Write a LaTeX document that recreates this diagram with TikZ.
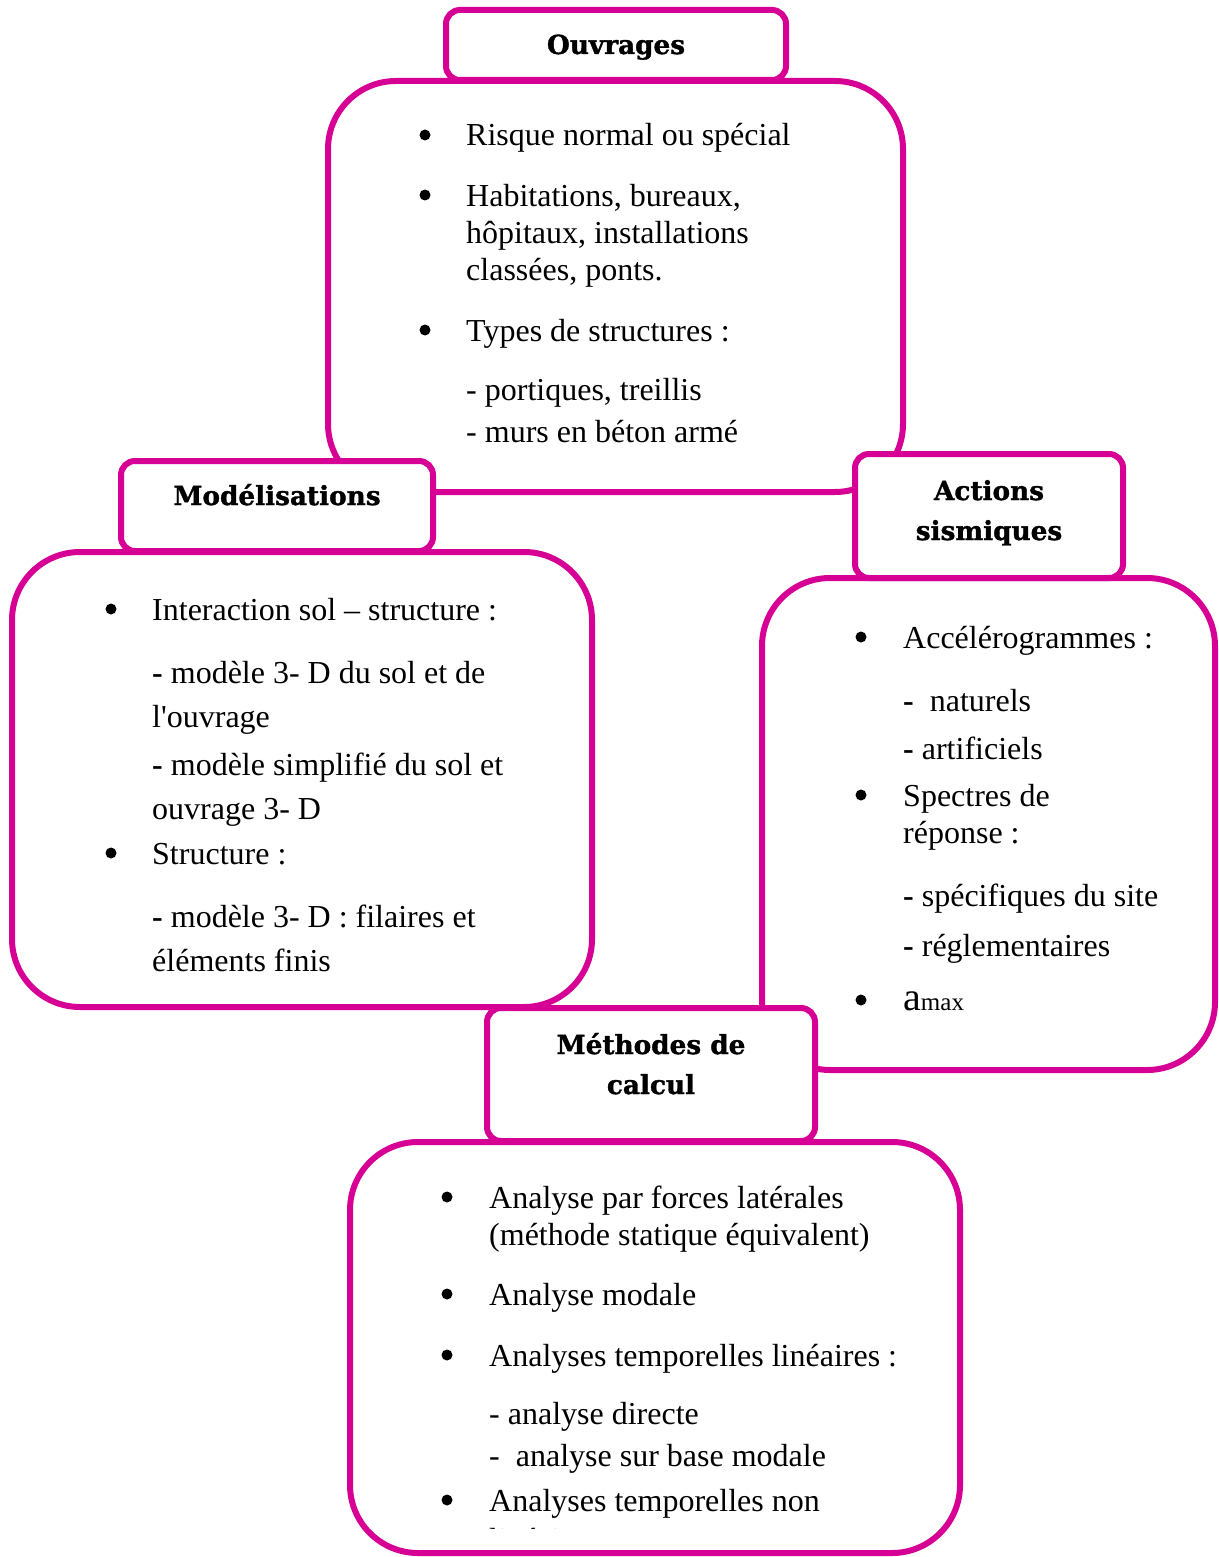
\documentclass[tikz,border=0pt]{standalone}
\usepackage{fontspec}
\setmainfont{Liberation Serif}[Ligatures=TeXOff]
\newfontfamily\hdfont{DejaVu Serif}[BoldFeatures={FakeBold=1.3}]
\definecolor{mag}{RGB}{214,0,148}
\tikzset{
  bigbox/.style={draw=mag, line width=6pt, rounded corners=68pt, fill=white, inner sep=0pt},
  hdbox/.style={draw=mag, line width=6pt, rounded corners=14pt, fill=white, inner sep=0pt},
  body/.style={anchor=base west, inner sep=0pt, font=\fontsize{32}{37}\selectfont},
  hd/.style={anchor=base, inner sep=0pt, font=\hdfont\bfseries\fontsize{26.3}{40}\selectfont},
  bul/.style={circle, fill=black, inner sep=0pt, minimum size=11pt}
}
\begin{document}
\begin{tikzpicture}[x=1pt,y=-1pt]
\useasboundingbox (0,0) rectangle (1218,1557);
% big boxes
\node[bigbox, minimum width=575pt, minimum height=411pt] (ouvB) at (615.5,286.5) {};
\node[bigbox, minimum width=580pt, minimum height=455pt] (modB) at (302,779.5) {};
\node[bigbox, minimum width=453pt, minimum height=492pt] (actB) at (988.5,824) {};
\node[bigbox, minimum width=610pt, minimum height=411pt] (metB) at (655,1347.5) {};
% headers
\node[hdbox, minimum width=340pt, minimum height=70pt] (ouvH) at (616,45) {};
\node[hdbox, minimum width=312pt, minimum height=90pt] (modH) at (277,506) {};
\node[hdbox, minimum width=268pt, minimum height=124pt] (actH) at (989,516) {};
\node[hdbox, minimum width=328pt, minimum height=133pt] (metH) at (651,1074.5) {};
\node[hd] (ouvT) at (616,54) {Ouvrages};
\node[hd] (modT) at (277,505) {Modélisations};
\node[hd] (actT1) at (989,500) {Actions};
\node[hd] (actT2) at (989,540) {sismiques};
\node[hd] (metT1) at (651,1054) {Méthodes de};
\node[hd] (metT2) at (651,1094) {calcul};
% Ouvrages body
\node[bul] (ob1) at (425,135) {};
\node[body] (o1) at (466,146) {Risque normal ou spécial};
\node[bul] (ob2) at (425,195) {};
\node[body] (o2) at (466,206) {Habitations, bureaux,};
\node[body] (o3) at (466,243) {hôpitaux, installations};
\node[body] (o4) at (466,280) {classées, ponts.};
\node[bul] (ob3) at (425,330) {};
\node[body] (o5) at (466,341) {Types de structures :};
\node[body] (o6) at (466,400) {- portiques, treillis};
\node[body] (o7) at (466,442) {- murs en béton armé};
% Modelisations body
\node[bul] (mb1) at (111,609) {};
\node[body] (m1) at (152,620) {Interaction sol – structure :};
\node[body] (m2) at (152,683) {\textbf{-} modèle 3- D du sol et de};
\node[body] (m3) at (152,727) {l'ouvrage};
\node[body] (m4) at (152,775) {\textbf{-} modèle simplifié du sol et};
\node[body] (m5) at (152,819) {ouvrage 3- D};
\node[bul] (mb2) at (111,853) {};
\node[body] (m6) at (152,864) {Structure :};
\node[body] (m7) at (152,927) {\textbf{-} modèle 3- D : filaires et};
\node[body] (m8) at (152,971) {éléments finis};
% Actions body
\node[bul] (ab1) at (861,637) {};
\node[body] (a1) at (903,648) {Accélérogrammes :};
\node[body] (a2) at (903,711) {\textbf{-}\ \ naturels};
\node[body] (a3) at (903,759) {\textbf{-} artificiels};
\node[bul] (ab2) at (861,795) {};
\node[body] (a4) at (903,806) {Spectres de};
\node[body] (a5) at (903,843) {réponse :};
\node[body] (a6) at (903,906) {\textbf{-} spécifiques du site};
\node[body] (a7) at (903,956) {\textbf{-} réglementaires};
\node[bul] (ab3) at (861,1000) {};
\node[body] (a8) at (903,1010) {{\fontsize{40}{40}\selectfont a}{\fontsize{25}{25}\selectfont max}};
% Methodes body
\node[bul] (eb1) at (447,1197) {};
\node[body] (e1) at (489,1208) {Analyse par forces latérales};
\node[body] (e2) at (489,1245) {(méthode statique équivalent)};
\node[bul] (eb2) at (447,1294) {};
\node[body] (e3) at (489,1305) {Analyse modale};
\node[bul] (eb3) at (447,1355) {};
\node[body] (e4) at (489,1366) {Analyses temporelles linéaires :};
\node[body] (e5) at (489,1424) {- analyse directe};
\node[body] (e6) at (489,1466) {-\ \ analyse sur base modale};
\node[bul] (eb4) at (447,1500) {};
\node[body] (e7) at (489,1511) {Analyses temporelles non};
\begin{scope}
\clip (400,1500) rectangle (950,1528);
\node[body] (e8) at (489,1550) {linéaires};
\end{scope}
\end{tikzpicture}
\end{document}
